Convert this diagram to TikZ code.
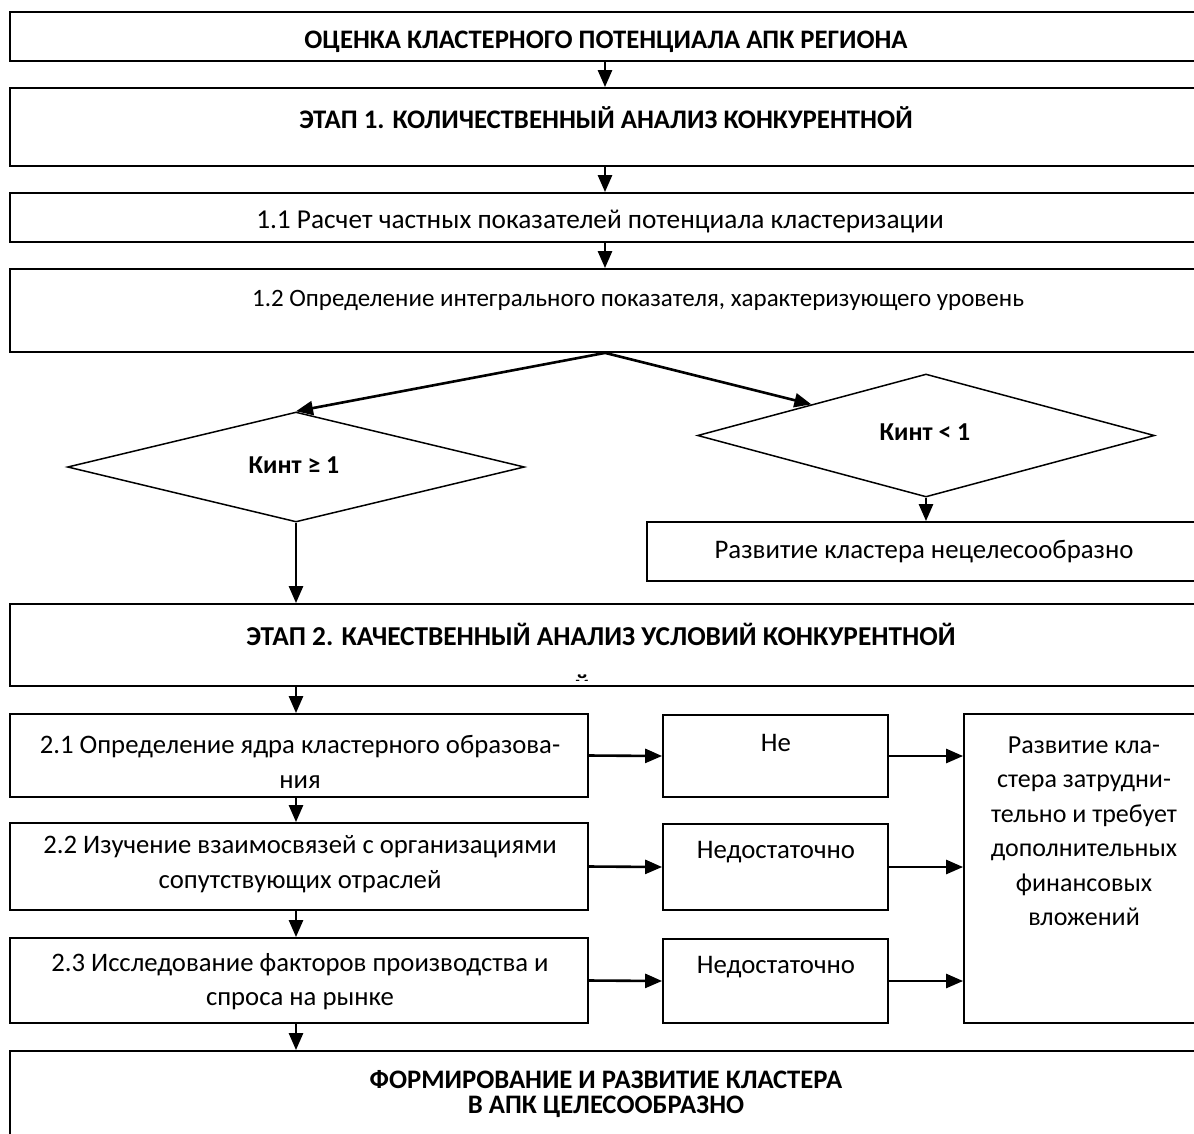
\documentclass[tikz,border=0pt]{standalone}
\usepackage{fontspec}
\setmainfont{Carlito}
\usetikzlibrary{arrows.meta,shapes.geometric}
\begin{document}
\begin{tikzpicture}[x=1pt,y=-1pt,
  box/.style={draw, line width=1.8pt, inner sep=0pt, minimum width=#1},
  box/.default=1190pt,
  dia/.style={draw, diamond, line width=1.5pt, inner sep=0pt},
  txt/.style={inner sep=0pt, align=center, font=\fontsize{#1}{34.5}\selectfont},
  txt/.default=26.5,
  btxt/.style={inner sep=0pt, align=center, font=\fontsize{#1}{34.5}\selectfont\bfseries},
  btxt/.default=26.7,
  arr/.style={line width=2.6pt, -{Triangle[length=17pt,width=14pt]}}
]
\useasboundingbox (0,0) rectangle (1194,1133);
\clip (0,0) rectangle (1194,1133);
\fill[white] (0,0) rectangle (1194,1133);

% boxes
\node[box, minimum height=49pt] (A) at (605,36.5) {};
\node[box, minimum height=78pt] (B) at (605,127) {};
\node[box, minimum height=49pt] (C) at (605,217.5) {};
\node[box, minimum height=83pt] (D) at (605,310.5) {};
\node[box=556pt, minimum height=59pt] (E) at (925,551.5) {};
\node[box, minimum height=82pt] (F) at (605,645) {};
\node[box=578pt, minimum height=83pt] (b21) at (299,755.5) {};
\node[box=578pt, minimum height=87pt] (b22) at (299,866.5) {};
\node[box=578pt, minimum height=85pt] (b23) at (299,980.5) {};
\node[box=225pt, minimum height=82pt] (n1) at (775.5,756) {};
\node[box=225pt, minimum height=86pt] (n2) at (775.5,867) {};
\node[box=225pt, minimum height=84pt] (n3) at (775.5,981) {};
\node[box=238pt, minimum height=309pt] (R) at (1083,868.5) {};
\node[box, minimum height=109pt] (G) at (605,1105.5) {};

% diamonds
\node[dia, minimum width=457pt, minimum height=110pt] (ld) at (296,467) {};
\node[dia, minimum width=457pt, minimum height=123pt] (rd) at (926,435.5) {};

% texts
\node[btxt=26.7] (tA) at (606,42) {ОЦЕНКА КЛАСТЕРНОГО ПОТЕНЦИАЛА АПК РЕГИОНА};
\node[btxt=26.8] (tB) at (606,118) {ЭТАП 1. КОЛИЧЕСТВЕННЫЙ АНАЛИЗ КОНКУРЕНТНОЙ};
\node[txt=27.3] (tC) at (600,222) {1.1 Расчет частных показателей потенциала кластеризации};
\node[txt=25] (tD) at (638,300) {1.2 Определение интегрального показателя, характеризующего уровень};
\node[btxt=25.8] (tld) at (294,465) {Кинт ≥ 1};
\node[btxt=25.8] (trd) at (925,432) {Кинт < 1};
\node[txt=26.8] (tE) at (924,552) {Развитие кластера нецелесообразно};
\node[btxt=27.3] (tF) at (601,634) {ЭТАП 2. КАЧЕСТВЕННЫЙ АНАЛИЗ УСЛОВИЙ КОНКУРЕНТНОЙ};
\begin{scope}
\clip (12,606) rectangle (1198,680);
\node[btxt=27.3, anchor=base] (tF2) at (582,693) {й};
\end{scope}
\node[txt=26.7] (t21) at (300,762) {2.1 Определение ядра кластерного образова-\\ния};
\node[txt=26.7] (t22) at (300,864) {2.2 Изучение взаимосвязей с организациями\\сопутствующих отраслей};
\node[txt=26.7] (t23) at (300,981.5) {2.3 Исследование факторов производства и\\спроса на рынке};
\node[txt=26.8] (tn1) at (776,743) {Не};
\node[txt=26.8] (tn2) at (776,852) {Недостаточно};
\node[txt=26.8] (tn3) at (776,967) {Недостаточно};
\node[txt=26] (tR) at (1084,831) {Развитие кла-\\стера затрудни-\\тельно и требует\\дополнительных\\финансовых\\вложений};
\node[inner sep=0pt, align=center, font=\fontsize{26.7}{25}\selectfont\bfseries] (tG) at (606,1094) {ФОРМИРОВАНИЕ И РАЗВИТИЕ КЛАСТЕРА\\В АПК ЦЕЛЕСООБРАЗНО};

% connectors
\draw[arr] (A.south) -- (B.north);
\draw[arr] (B.south) -- (C.north);
\draw[arr] (C.south) -- (D.north);
\draw[arr] (D.south) -- (ld.north);
\draw[arr] (D.south) -- (rd.north west);
\draw[arr] (rd.south) -- (rd.south |- E.north);
\draw[arr] (ld.south) -- (ld.south |- F.north);
\draw[arr] (ld.south |- F.south) -- (ld.south |- b21.north);
\draw[arr] (ld.south |- b21.south) -- (ld.south |- b22.north);
\draw[arr] (ld.south |- b22.south) -- (ld.south |- b23.north);
\draw[arr] (ld.south |- b23.south) -- (ld.south |- G.north);
\draw[arr] (b21.east) -- (n1.west);
\draw[arr] (b22.east) -- (n2.west);
\draw[arr] (b23.east) -- (n3.west);
\draw[arr] (n1.east) -- (R.west |- n1.east);
\draw[arr] (n2.east) -- (R.west |- n2.east);
\draw[arr] (n3.east) -- (R.west |- n3.east);
\end{tikzpicture}
\end{document}
